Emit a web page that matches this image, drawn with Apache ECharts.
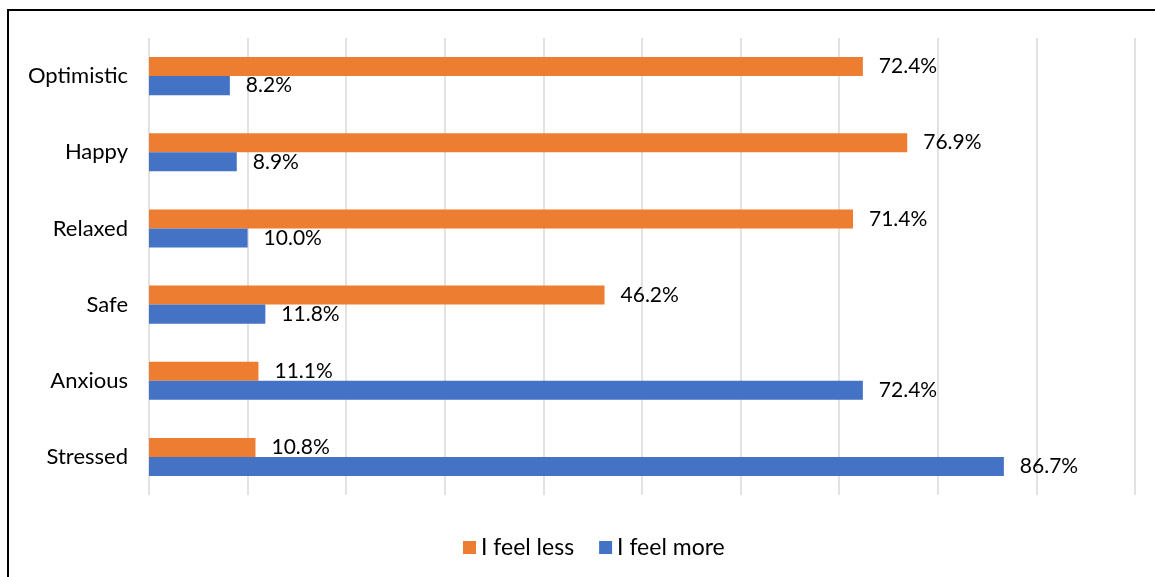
<!DOCTYPE html>
<html>
<head>
<meta charset="utf-8">
<script src="https://cdn.jsdelivr.net/npm/echarts@6/dist/echarts.min.js"></script>
<style>
  html, body { margin: 0; padding: 0; background: #fff; }
  #chart { width: 1155px; height: 577px; }
</style>
</head>
<body>
<div id="chart"></div>
<script>
// feelings, top to bottom
const categories = ['Optimistic', 'Happy', 'Relaxed', 'Safe', 'Anxious', 'Stressed'];
const feelLess = [72.4, 76.9, 71.4, 46.2, 11.1, 10.8];
const feelMore = [8.2, 8.9, 10.0, 11.8, 72.4, 86.7];
const seriesNames = ['I feel less', 'I feel more'];

const chart = echarts.init(document.getElementById('chart'));
const font = 'Lato, "Open Sans", sans-serif';

function barSeries(name, data, color) {
    return {
        name: name,
        type: 'bar',
        data: data,
        barGap: '0%',
        barCategoryGap: '50%',
        itemStyle: { color: color },
        label: {
            show: true,
            position: 'right',
            distance: 16,
            color: '#000',
            fontFamily: font,
            fontSize: 21,
            formatter: function (p) { return p.value.toFixed(1) + '%'; }
        }
    };
}

chart.setOption({
    animation: false,
    textStyle: { fontFamily: font },
    graphic: [{
        type: 'rect',
        shape: { x: 8, y: 10, width: 1300, height: 700 },
        style: { fill: 'none', stroke: '#000', lineWidth: 2 }
    }],
    legend: {
        bottom: 13,
        left: 458,
        itemWidth: 13,
        itemHeight: 13,
        itemGap: 25,
        icon: 'rect',
        textStyle: { color: '#000', fontSize: 23, fontFamily: font },
        data: seriesNames
    },
    grid: { left: 149, right: 20, top: 38, bottom: 82 },
    xAxis: {
        type: 'value',
        min: 0,
        max: 100,
        interval: 10,
        axisLabel: { show: false },
        axisLine: { show: false },
        axisTick: { show: false },
        splitLine: { lineStyle: { color: '#d9d9d9', width: 1.5 } }
    },
    yAxis: {
        type: 'category',
        inverse: true,
        data: categories,
        axisLine: { show: false },
        axisTick: { show: false },
        axisLabel: { color: '#000', fontSize: 22, margin: 21, fontFamily: font }
    },
    series: [
        barSeries(seriesNames[0], feelLess, '#ed7d31'),
        barSeries(seriesNames[1], feelMore, '#4472c4')
    ]
});
</script>
</body>
</html>
